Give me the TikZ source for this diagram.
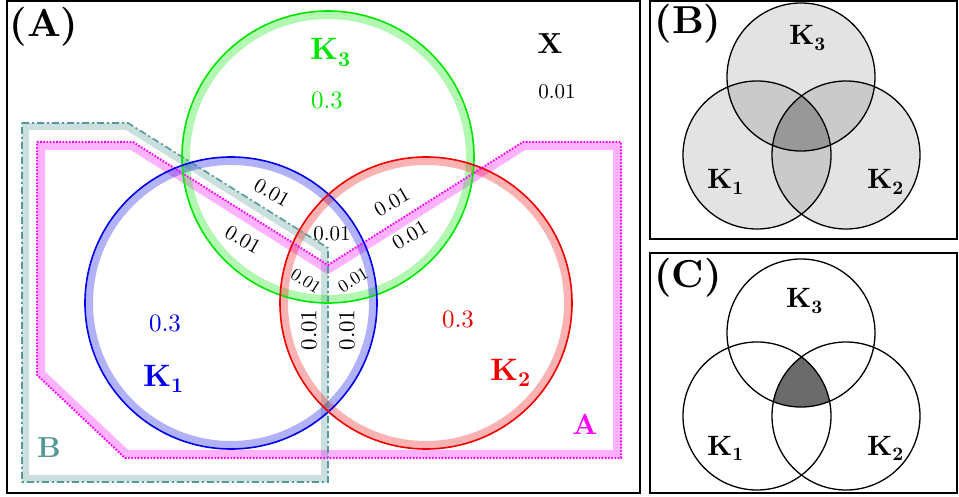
\documentclass[tikz,border=0pt]{standalone}
\usepackage{graphicx}
\usepackage{fontspec}
\setmainfont{lmroman10-regular.otf}[BoldFont=lmroman10-bold.otf]
\definecolor{kgreen}{RGB}{0,230,0}
\definecolor{kblue}{RGB}{0,0,235}
\definecolor{kred}{RGB}{240,0,0}
\definecolor{amag}{RGB}{255,0,255}
\definecolor{bteal}{RGB}{84,152,152}
\newcommand{\Klab}[3]{{\fontsize{#1}{#1}\selectfont\bfseries K\raisebox{-0.2em}{\fontsize{#2}{#2}\selectfont #3}}}
\newcommand{\fs}[1]{\fontsize{#1}{#1}\selectfont}
\tikzset{
  frame/.style={draw=black, line width=2},
  ring/.style={line width=1.6},
  band/.style={opacity=0.3, line width=8},
  pband/.style={opacity=0.3},
  magline/.style={amag, line width=2, dash pattern=on 1.6pt off 1.6pt},
  tealline/.style={bteal, line width=1.6, dash pattern=on 7pt off 3pt on 2pt off 3pt},
  num/.style={inner sep=0pt, font=\fs{21}},
  plab/.style={inner sep=0pt, font=\fs{39}\bfseries},
  vc/.style={draw=black, line width=1.3},
}
\begin{document}
\begin{tikzpicture}[x=1pt,y=-1pt]
\useasboundingbox (0,0) rectangle (959,497);
\fill[white] (0,0) rectangle (959,497);

% ---------- Panel A ----------
\coordinate (c3) at (328,157);
\coordinate (c1) at (231,303);
\coordinate (c2) at (426,303);

% polygon B (teal)
\def\polyB{(22,123) -- (128,123) -- (328,248) -- (328,482) -- (22,482) -- cycle}
\begin{scope}
  \clip \polyB;
  \draw[bteal, pband, line width=14] \polyB;
\end{scope}
% polygon A (magenta)
\def\polyA{(37,142) -- (133,142) -- (328,265) -- (523,142) -- (621,142) -- (621,458) -- (125,458) -- (37,375) -- cycle}
\begin{scope}
  \clip \polyA;
  \draw[amag, pband, line width=16] \polyA;
\end{scope}

% circle bands
\draw[kgreen, band] (c3) circle (142);
\draw[kblue, band] (c1) circle (142);
\draw[kred, band] (c2) circle (142);

% outlines
\draw[tealline] \polyB;
\draw[magline] \polyA;
\draw[kgreen, ring] (c3) circle (146);
\draw[kblue, ring] (c1) circle (146);
\draw[kred, ring] (c2) circle (146);

\draw[frame] (7,1.5) rectangle (640,492.5);

% labels
\node[plab] (labA) at (44,27) {(A)};
\node[inner sep=0pt, anchor=base west, kgreen] (k3) at (310,60) {\Klab{31}{21}{3}};
\node[inner sep=0pt, kgreen, font=\fs{25}] (p3) at (327,100) {0.3};
\node[inner sep=0pt, anchor=base west, kblue] (k1) at (143,386) {\Klab{31}{21}{1}};
\node[inner sep=0pt, kblue, font=\fs{25}] (p1) at (165,323) {0.3};
\node[inner sep=0pt, anchor=base west, kred] (k2) at (490,380) {\Klab{31}{21}{2}};
\node[inner sep=0pt, kred, font=\fs{25}] (p2) at (458,319) {0.3};
\node[inner sep=0pt, font=\fs{29}\bfseries] (xl) at (550,44) {X};
\node[num] (xp) at (557,92) {0.01};
\node[inner sep=0pt, amag, font=\fs{29}\bfseries] (al) at (585,424) {A};
\node[inner sep=0pt, bteal, font=\fs{29}\bfseries] (bl) at (49,448) {B};

\node[num, rotate=-30] (n1) at (272,193) {0.01};
\node[num, rotate=-30] (n2) at (243,240) {0.01};
\node[num] (n3) at (332,234) {0.01};
\node[num, rotate=-33, font=\fs{18}] (n4) at (306,281) {0.01};
\node[num, rotate=32, font=\fs{18}] (n5) at (353,280) {0.01};
\node[num, rotate=30] (n6) at (392,202) {0.01};
\node[num, rotate=30] (n7) at (410,235) {0.01};
\node[num, rotate=90, font=\fs{23}] (n8) at (309,330) {0.01};
\node[num, rotate=90, font=\fs{23}] (n9) at (347,330) {0.01};

% ---------- Panel B ----------
\coordinate (b3) at (801,77);
\coordinate (b1) at (757,155);
\coordinate (b2) at (846,155);
\fill[black, opacity=0.11] (b3) circle (74);
\fill[black, opacity=0.11] (b1) circle (74);
\fill[black, opacity=0.11] (b2) circle (74);
\begin{scope}
  \clip (b3) circle (74);
  \clip (b1) circle (74);
  \fill[black, opacity=0.15] (b2) circle (74);
\end{scope}
\draw[vc] (b3) circle (74);
\draw[vc] (b1) circle (74);
\draw[vc] (b2) circle (74);
\draw[frame] (650,1.5) rectangle (957,239);
\node[plab] (labB) at (688,24) {(B)};
\node[inner sep=0pt, anchor=base west] (bk3) at (789,45) {\Klab{28}{19}{3}};
\node[inner sep=0pt, anchor=base west] (bk1) at (707,189) {\Klab{28}{19}{1}};
\node[inner sep=0pt, anchor=base west] (bk2) at (867,189) {\Klab{28}{19}{2}};

% ---------- Panel C ----------
\coordinate (d3) at (801,333);
\coordinate (d1) at (757,416);
\coordinate (d2) at (846,416);
\begin{scope}
  \clip (d3) circle (74);
  \clip (d1) circle (74);
  \fill[black!58] (d2) circle (74);
\end{scope}
\draw[vc] (d3) circle (74);
\draw[vc] (d1) circle (74);
\draw[vc] (d2) circle (74);
\draw[frame] (650,253) rectangle (957,492.5);
\node[plab] (labC) at (688,278) {(C)};
\node[inner sep=0pt, anchor=base west] (ck3) at (786,308) {\Klab{28}{19}{3}};
\node[inner sep=0pt, anchor=base west] (ck1) at (707,455) {\Klab{28}{19}{1}};
\node[inner sep=0pt, anchor=base west] (ck2) at (867,455) {\Klab{28}{19}{2}};
\end{tikzpicture}
\end{document}
